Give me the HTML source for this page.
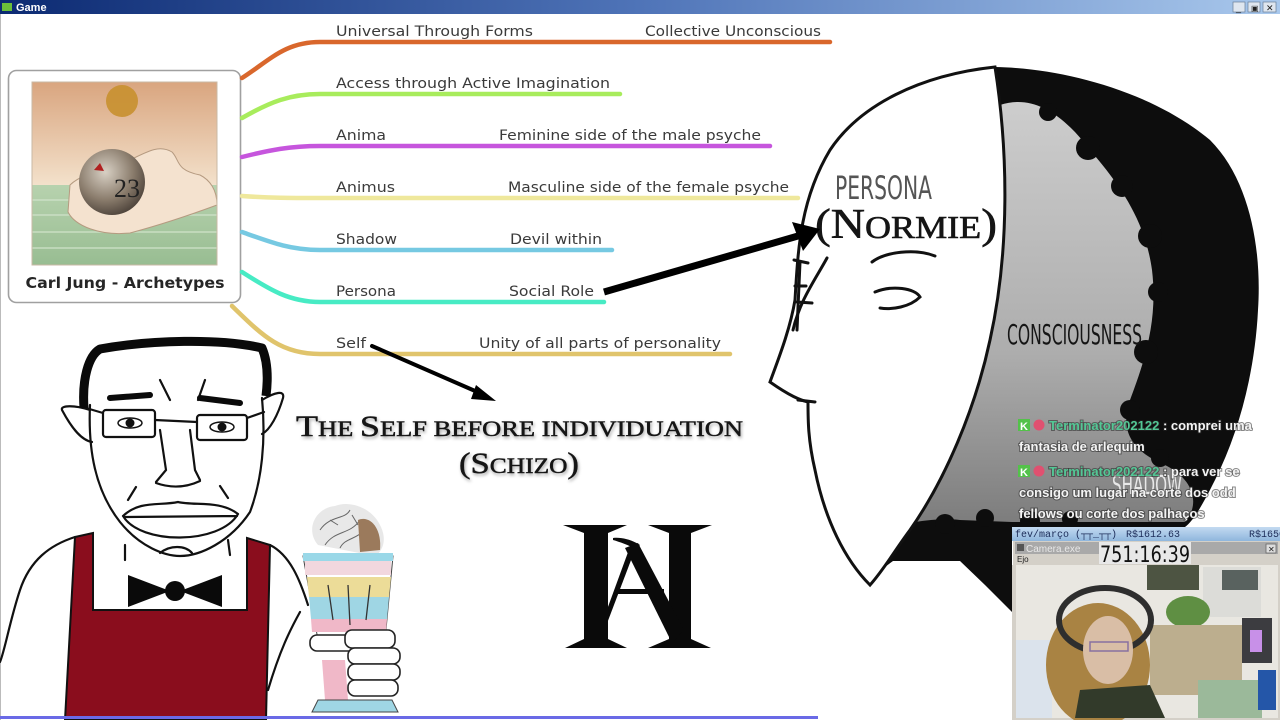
<!DOCTYPE html>
<html><head><meta charset="utf-8"><style>
html,body{margin:0;padding:0;background:#fff;width:1280px;height:720px;overflow:hidden}
svg{display:block}
.lbl{font-family:"DejaVu Sans","Liberation Sans",sans-serif;font-size:14px;fill:#3a3a3a}
.chat{font-family:"Liberation Sans",sans-serif;font-weight:bold;font-size:13px;fill:#f4f4f4;paint-order:stroke;stroke:rgba(40,40,40,0.55);stroke-width:2px}
.usr{fill:#53c795}
.serif{font-family:"Liberation Serif",serif;fill:#151515}
</style></head><body>
<svg width="1280" height="720" viewBox="0 0 1280 720" xmlns="http://www.w3.org/2000/svg">
<defs>
<linearGradient id="tb" x1="0" x2="1" y1="0" y2="0"><stop offset="0" stop-color="#0c2a72"/><stop offset="0.5" stop-color="#4f74b8"/><stop offset="1" stop-color="#a9c8ec"/></linearGradient>
<linearGradient id="sky" x1="0" x2="0" y1="0" y2="1"><stop offset="0" stop-color="#d9a57f"/><stop offset="1" stop-color="#f3e1cb"/></linearGradient>
<linearGradient id="sea" x1="0" x2="0" y1="0" y2="1"><stop offset="0" stop-color="#b7d2ae"/><stop offset="1" stop-color="#98bd92"/></linearGradient>
<linearGradient id="gry" x1="0" x2="0" y1="0" y2="1"><stop offset="0" stop-color="#cdcdcd"/><stop offset="0.6" stop-color="#adadad"/><stop offset="1" stop-color="#7d7d7d"/></linearGradient>
<linearGradient id="wb" x1="0" x2="0" y1="0" y2="1"><stop offset="0" stop-color="#c3daf1"/><stop offset="1" stop-color="#8fb6dd"/></linearGradient>
<radialGradient id="globe" cx="0.4" cy="0.35" r="0.7"><stop offset="0" stop-color="#d8d0c4"/><stop offset="0.6" stop-color="#8a7c6c"/><stop offset="1" stop-color="#4a4038"/></radialGradient>
</defs>

<!-- title bar -->
<rect x="0" y="0" width="1280" height="14" fill="url(#tb)"/>
<rect x="2" y="3" width="10" height="8" fill="#6bbf3a"/>
<text x="16" y="11" font-family="Liberation Sans,sans-serif" font-weight="bold" font-size="11" fill="#fff">Game</text>
<g fill="#dfe6ef" stroke="#6a7f99" stroke-width="0.7">
<rect x="1233" y="2" width="12" height="10"/><rect x="1248" y="2" width="12" height="10"/><rect x="1263" y="2" width="13" height="10"/>
</g>
<text x="1236" y="11" font-size="9" font-family="Liberation Sans,sans-serif" fill="#222">_</text>
<text x="1251" y="11" font-size="8" font-family="Liberation Sans,sans-serif" fill="#222">▣</text>
<text x="1266" y="11" font-size="9" font-family="Liberation Sans,sans-serif" fill="#222">✕</text>
<rect x="0" y="14" width="1" height="706" fill="#bbb"/>

<!-- HEAD (right) -->
<path d="M995 67 C1060 68 1150 90 1210 140 C1250 180 1262 250 1258 310 C1255 370 1240 430 1215 480 C1200 510 1192 522 1185 527 L1012 527 L1012 612 L985 585 L960 561 L893 561 L878 572 L860 500 Z" fill="#0d0d0d"/>
<path d="M1000 105 C1030 95 1060 110 1090 150 C1120 185 1145 220 1152 270 C1158 320 1145 360 1130 400 C1120 430 1130 450 1165 465 C1195 480 1200 505 1185 522 L1012 522 L960 520 C945 518 930 520 915 522 L990 300 Z" fill="url(#gry)"/>
<g fill="#0d0d0d">
<circle cx="1048" cy="112" r="9"/><circle cx="1088" cy="148" r="12"/><circle cx="1122" cy="186" r="11"/><circle cx="1150" cy="236" r="12"/><circle cx="1158" cy="292" r="10"/><circle cx="1146" cy="352" r="12"/><circle cx="1130" cy="410" r="10"/><circle cx="1160" cy="458" r="9"/>
<circle cx="945" cy="524" r="10"/><circle cx="985" cy="518" r="9"/><circle cx="1030" cy="521" r="10"/><circle cx="1070" cy="519" r="8"/>
</g>
<text x="1112" y="494" font-family="DejaVu Sans,Liberation Sans,sans-serif" font-size="26" fill="#e8e8e8" textLength="70" lengthAdjust="spacingAndGlyphs">SHADOW</text>
<text x="1007" y="344" font-family="DejaVu Sans,Liberation Sans,sans-serif" font-size="28" fill="#151515" textLength="135" lengthAdjust="spacingAndGlyphs">CONSCIOUSNESS</text>
<!-- face -->
<path d="M995 67 C1008 150 1010 250 990 340 C975 410 945 480 910 530 C895 550 885 568 870 585 C845 560 825 520 815 470 C808 440 808 420 808 402 C800 400 790 396 770 382 C778 360 790 330 795 300 C798 250 800 200 830 150 C860 105 920 75 995 67 Z" fill="#fff" stroke="#111" stroke-width="3"/>
<g fill="none" stroke="#111" stroke-width="3" stroke-linecap="round">
<path d="M872 262 C885 252 915 248 935 256"/>
<path d="M875 292 C892 285 915 288 920 297 C910 307 892 310 880 308"/>
<path d="M827 258 C815 280 800 300 793 330"/>
<path d="M794 260 L808 263 M795 286 L806 286 M797 302 L812 303 M800 262 L797 330"/>
<path d="M798 400 L815 402"/>
</g>
<text x="835" y="199" font-family="DejaVu Sans,Liberation Sans,sans-serif" font-size="32" fill="#555" textLength="97" lengthAdjust="spacingAndGlyphs">PERSONA</text>
<text x="815" y="238" class="serif" textLength="182" lengthAdjust="spacingAndGlyphs" style="paint-order:stroke;stroke:#111;stroke-width:0.6"><tspan font-size="42">(N</tspan><tspan font-size="32">ORMIE</tspan><tspan font-size="42">)</tspan></text>

<!-- card -->
<rect x="8.5" y="70.5" width="232" height="232" rx="8" fill="#fff" stroke="#a0a0a0" stroke-width="1.6"/>
<rect x="32" y="82" width="185" height="103" fill="url(#sky)"/>
<rect x="32" y="185" width="185" height="80" fill="url(#sea)"/>
<g stroke="#d2e4cc" stroke-width="1.5" opacity="0.8">
<path d="M32 200 H217 M32 215 H217 M32 232 H217 M32 248 H217"/>
</g>
<circle cx="122" cy="101" r="16" fill="#c8902f" opacity="0.9"/>
<path d="M70 185 C80 175 100 170 130 160 C150 150 160 145 172 152 C180 160 175 170 200 175 C210 180 217 190 217 205 C190 215 160 225 130 233 C100 236 75 226 68 212 Z" fill="#f4e2cf" stroke="#b59a80" stroke-width="1"/>
<circle cx="112" cy="182" r="33" fill="url(#globe)"/>
<path d="M94 170 L100 163 L104 171 Z" fill="#b02020"/>
<text x="114" y="197" font-family="Liberation Serif,serif" font-size="26" fill="#222">23</text>
<rect x="32" y="82" width="185" height="183" fill="none" stroke="#c9b9a5" stroke-width="1"/>
<text x="125" y="288" text-anchor="middle" font-family="DejaVu Sans,Liberation Sans,sans-serif" font-weight="bold" font-size="15" fill="#262626" textLength="199" lengthAdjust="spacingAndGlyphs">Carl Jung - Archetypes</text>

<!-- branches -->
<g fill="none" stroke-width="4.5" stroke-linecap="round">
<path d="M242 78 C270 60 285 42 320 42 H830" stroke="#d9672c"/>
<path d="M242 118 C270 102 290 94 320 94 H620" stroke="#a8ec5c"/>
<path d="M242 157 C270 150 290 146 320 146 H770" stroke="#c655dd"/>
<path d="M242 196 C270 198 290 198 320 198 H798" stroke="#efe89c"/>
<path d="M242 232 C270 242 290 250 320 250 H612" stroke="#76c9e2"/>
<path d="M242 272 C270 290 290 302 320 302 H604" stroke="#47ebc4"/>
<path d="M232 306 C262 335 280 354 320 354 H730" stroke="#e0c46c"/>
</g>
<g class="lbl">
<text x="336" y="36" textLength="197" lengthAdjust="spacingAndGlyphs">Universal Through Forms</text>
<text x="645" y="36" textLength="176" lengthAdjust="spacingAndGlyphs">Collective Unconscious</text>
<text x="336" y="88" textLength="274" lengthAdjust="spacingAndGlyphs">Access through Active Imagination</text>
<text x="336" y="140" textLength="50" lengthAdjust="spacingAndGlyphs">Anima</text>
<text x="499" y="140" textLength="262" lengthAdjust="spacingAndGlyphs">Feminine side of the male psyche</text>
<text x="336" y="192" textLength="59" lengthAdjust="spacingAndGlyphs">Animus</text>
<text x="508" y="192" textLength="281" lengthAdjust="spacingAndGlyphs">Masculine side of the female psyche</text>
<text x="336" y="244" textLength="61" lengthAdjust="spacingAndGlyphs">Shadow</text>
<text x="510" y="244" textLength="92" lengthAdjust="spacingAndGlyphs">Devil within</text>
<text x="336" y="296" textLength="60" lengthAdjust="spacingAndGlyphs">Persona</text>
<text x="509" y="296" textLength="85" lengthAdjust="spacingAndGlyphs">Social Role</text>
<text x="336" y="348" textLength="30" lengthAdjust="spacingAndGlyphs">Self</text>
<text x="479" y="348" textLength="242" lengthAdjust="spacingAndGlyphs">Unity of all parts of personality</text>
</g>

<!-- arrows -->
<path d="M604 292 L798 236" stroke="#000" stroke-width="7"/>
<path d="M820 229 L792 222 L803 251 Z" fill="#000"/>
<path d="M372 346 L482 394" stroke="#000" stroke-width="4" stroke-linecap="round"/>
<path d="M496 401 L476 385 L471 399 Z" fill="#000"/>

<!-- title text -->
<g class="serif" style="paint-order:stroke;stroke:#222;stroke-width:0.5;filter:drop-shadow(1px 2px 1.5px rgba(0,0,0,0.35))">
<text x="296" y="436" textLength="447" lengthAdjust="spacingAndGlyphs"><tspan font-size="30">T</tspan><tspan font-size="22">HE </tspan><tspan font-size="30">S</tspan><tspan font-size="22">ELF BEFORE INDIVIDUATION</tspan></text>
<text x="459" y="473" textLength="120" lengthAdjust="spacingAndGlyphs"><tspan font-size="30">(S</tspan><tspan font-size="22">CHIZO</tspan><tspan font-size="30">)</tspan></text>
</g>

<!-- UA logo -->
<g fill="#0a0a0a">
<path d="M563 525 H627 L608 533 V639 L627 648 H565 L584 639 V533 Z"/>
<path d="M648 525 H712 L691 533 V639 L711 648 H648 L669 639 V533 Z"/>
<path d="M631 544 L636 547 L606 626 L601 626 Z"/>
<path d="M613 538 C622 537 632 540 640 545 L636 549 C628 545 620 542 613 540 Z"/>
<path d="M625 548 L638 543 L684 630 L672 643 Z"/>
<rect x="618" y="589" width="46" height="5"/>
</g>

<!-- MAN -->
<path d="M75 537 L93 533 L93 610 L247 610 L247 538 L270 545 L266 720 L65 720 Z" fill="#8a0d1d" stroke="#111" stroke-width="2"/>
<g fill="none" stroke="#111" stroke-width="2.2" stroke-linecap="round">
<path d="M75 537 C50 545 30 560 20 590 C10 620 5 650 0 662"/>
<path d="M270 545 C290 555 300 580 308 605"/>
<path d="M268 690 C280 650 290 630 300 612"/>
<path d="M90 405 C88 450 95 490 120 522 C140 547 165 556 180 556 C200 556 230 542 250 512 C262 480 266 440 262 398"/>
<path d="M90 410 C75 405 60 405 62 410 C70 425 80 440 92 442"/>
<path d="M262 400 C275 392 285 390 283 398 C278 415 270 430 262 434"/>
<path d="M125 545 L125 560 M228 540 L230 555"/>
<rect x="103" y="410" width="52" height="27" rx="3"/>
<rect x="197" y="415" width="50" height="25" rx="3"/>
<path d="M155 420 L197 422 M103 413 L86 408 M247 418 L264 412"/>
<path d="M160 430 L166 470 L156 482 M190 430 L195 470 L200 480 M156 483 C170 488 185 488 200 481"/>
<path d="M160 380 L170 400 M205 380 L198 400"/>
<path d="M123 516 C140 500 160 506 178 502 C195 506 220 500 238 514 M123 516 C140 545 220 545 238 514 M124 517 L237 516"/>
<path d="M160 553 C170 545 185 545 192 553"/>
<path d="M128 500 L136 487 M228 498 L220 486"/>
</g>
<path d="M84 408 C82 380 88 356 100 349 C150 340 220 338 262 348 C268 362 268 380 266 396" fill="none" stroke="#0a0a0a" stroke-width="9" stroke-linejoin="round"/>
<g stroke="#0a0a0a" stroke-width="6" stroke-linecap="round"><path d="M110 398 L150 395 M200 398 L240 403"/></g>
<ellipse cx="130" cy="423" rx="12" ry="5" fill="#fff" stroke="#111" stroke-width="1.5"/><circle cx="130" cy="423" r="4.5" fill="#111"/>
<ellipse cx="222" cy="427" rx="12" ry="5" fill="#fff" stroke="#111" stroke-width="1.5"/><circle cx="222" cy="427" r="4.5" fill="#111"/>
<path d="M128 575 L128 607 L170 591 Z M222 575 L222 607 L180 591 Z" fill="#0a0a0a"/>
<circle cx="175" cy="591" r="10" fill="#0a0a0a"/>

<!-- milkshake -->
<path d="M318 545 C305 530 315 508 335 506 C350 500 372 508 380 525 C388 540 382 552 375 556 Z" fill="#e8e8e8"/>
<g fill="none" stroke="#666" stroke-width="1"><path d="M320 530 C330 515 345 520 350 510 M325 545 C335 530 350 535 360 520 M340 548 C345 538 355 540 365 530 M330 520 l8 5 M352 515 l6 10"/></g>
<path d="M358 520 C370 515 382 528 380 550 L360 552 Z" fill="#9b7a5c"/>
<path d="M303 556 L393 556 L385 640 L318 640 Z" fill="#fff" stroke="#444" stroke-width="1"/>
<rect x="303" y="553" width="90" height="8" fill="#9ad8e8"/>
<rect x="305" y="561" width="86" height="14" fill="#f2d7de"/>
<path d="M307 577 L391 577 L389 597 L309 597 Z" fill="#ecdc98"/>
<path d="M309 597 L389 597 L387 619 L311 619 Z" fill="#9fd6e4"/>
<path d="M311 619 L387 619 L386 632 L312 632 Z" fill="#f0b8c8"/>
<g stroke="#333" stroke-width="1.3" fill="none"><path d="M328 585 L333 620 M348 585 L350 625 M370 585 L366 620"/></g>
<path d="M322 660 L345 660 L348 700 L325 700 Z" fill="#f0b8c8"/>
<path d="M318 700 L392 700 L398 712 L312 712 Z" fill="#9fd6e4" stroke="#444" stroke-width="1"/>
<g fill="#fff" stroke="#222" stroke-width="1.6">
<rect x="310" y="635" width="50" height="16" rx="7"/>
<rect x="345" y="630" width="50" height="18" rx="7"/>
<rect x="348" y="648" width="52" height="16" rx="7"/>
<rect x="348" y="664" width="52" height="16" rx="7"/>
<rect x="348" y="680" width="50" height="16" rx="7"/>
</g>
<rect x="0" y="716" width="818" height="3" fill="#6a6ae6"/>

<!-- chat -->
<rect x="1018" y="419" width="12" height="12" fill="#53c24a"/><text x="1020" y="430" font-family="Liberation Sans,sans-serif" font-weight="bold" font-size="11" fill="#fff">K</text>
<circle cx="1039" cy="425" r="5.5" fill="#e05070"/>
<rect x="1018" y="465" width="12" height="12" fill="#53c24a"/><text x="1020" y="476" font-family="Liberation Sans,sans-serif" font-weight="bold" font-size="11" fill="#fff">K</text>
<circle cx="1039" cy="471" r="5.5" fill="#e05070"/>
<g class="chat">
<text x="1049" y="430"><tspan class="usr">Terminator202122</tspan> : comprei uma</text>
<text x="1019" y="451">fantasia de arlequim</text>
<text x="1049" y="476"><tspan class="usr">Terminator202122</tspan> : para ver se</text>
<text x="1019" y="497">consigo um lugar na corte dos odd</text>
<text x="1019" y="518">fellows ou corte dos palhaços</text>
</g>

<!-- webcam overlay -->
<rect x="1012" y="527" width="268" height="14" fill="url(#wb)"/>
<g font-family="Liberation Mono,DejaVu Sans Mono,monospace" font-size="10" fill="#1c2c58">
<text x="1015" y="537">fev/março (┬┬_┬┬)</text>
<text x="1126" y="537">R$1612.63</text>
<text x="1249" y="537">R$1650</text>
</g>
<rect x="1013" y="541" width="267" height="179" fill="#d4d0c8"/>
<rect x="1015" y="542" width="263" height="12" fill="#a9a9a9"/>
<text x="1026" y="552" font-family="Liberation Sans,sans-serif" font-size="10" fill="#e8e8e8">Camera.exe</text>
<rect x="1017" y="544" width="7" height="7" fill="#555"/>
<rect x="1266" y="544" width="10" height="9" fill="#ddd" stroke="#666" stroke-width="0.8"/>
<text x="1268" y="552" font-size="8" font-family="Liberation Sans,sans-serif" fill="#222">✕</text>
<rect x="1099" y="542" width="92" height="22" fill="#e8e8e8"/>
<text x="1100" y="562" font-family="DejaVu Sans,Liberation Sans,sans-serif" font-size="22" fill="#111" textLength="90" lengthAdjust="spacingAndGlyphs">751:16:39</text>
<text x="1017" y="562" font-family="Liberation Sans,sans-serif" font-size="8" fill="#222">Ejo</text>
<!-- video -->
<rect x="1016" y="565" width="262" height="153" fill="#e9e7e1"/>
<rect x="1147" y="565" width="52" height="25" fill="#4d5442"/>
<rect x="1203" y="567" width="58" height="50" fill="#dcdcd8"/>
<rect x="1222" y="570" width="36" height="20" fill="#59625f"/>
<ellipse cx="1188" cy="612" rx="22" ry="16" fill="#5f8f43"/>
<rect x="1150" y="625" width="92" height="70" fill="#bcae8e"/>
<rect x="1198" y="680" width="64" height="38" fill="#9bb99a"/>
<rect x="1242" y="618" width="30" height="45" fill="#3c3c40"/>
<rect x="1250" y="630" width="12" height="22" fill="#c890e8"/>
<rect x="1258" y="670" width="18" height="40" fill="#2456a8"/>
<rect x="1016" y="640" width="36" height="78" fill="#dbe3ec"/>
<ellipse cx="1098" cy="665" rx="52" ry="62" fill="#a98343"/>
<ellipse cx="1105" cy="620" rx="46" ry="32" fill="none" stroke="#2e2e2e" stroke-width="6"/>
<ellipse cx="1108" cy="650" rx="25" ry="34" fill="#d9bea6"/>
<rect x="1090" y="642" width="38" height="9" fill="none" stroke="#8870a0" stroke-width="1.5"/>
<path d="M1080 690 L1150 685 L1165 718 L1075 718 Z" fill="#323a2a"/>
<rect x="1012" y="565" width="4" height="155" fill="#d4d0c8"/>
<rect x="1278" y="541" width="2" height="179" fill="#d4d0c8"/>
</svg>
</body></html>
